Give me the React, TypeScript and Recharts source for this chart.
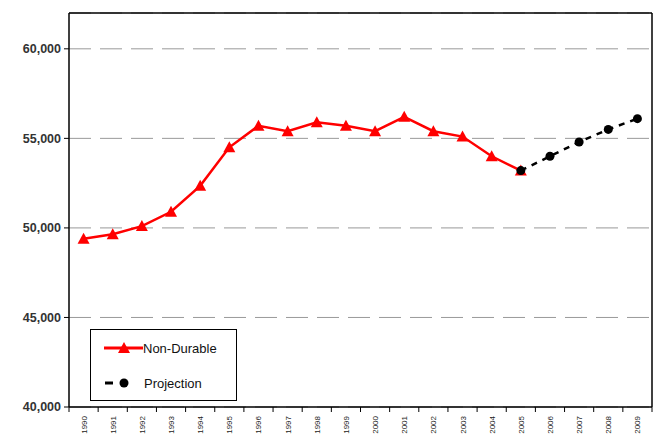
import { LineChart, Line, XAxis, YAxis, CartesianGrid, ReferenceLine } from "recharts";

// years on the x axis
const years = [1990, 1991, 1992, 1993, 1994, 1995, 1996, 1997, 1998, 1999, 2000, 2001, 2002, 2003, 2004, 2005, 2006, 2007, 2008, 2009];
// actuals, 1990-2005
const nonDurable = [49400, 49650, 50100, 50900, 52350, 54500, 55700, 55400, 55900, 55700, 55400, 56200, 55400, 55100, 54000, 53200, null, null, null, null];
// projection, 2005-2009
const projection = [null, null, null, null, null, null, null, null, null, null, null, null, null, null, null, 53200, 54000, 54800, 55500, 56100];
const yTicks = [40000, 45000, 50000, 55000, 60000];
const yTop = 62000;
const edgeTicks = [...years.map(y => y - 0.5), 2009.5];

const data = years.map((y, i) => ({ year: y, nonDurable: nonDurable[i], projection: projection[i] }));

const FONT = "Arial, 'Liberation Sans', sans-serif";

const Triangle = ({ cx, cy }: any) => {
  if (cx == null || cy == null) return null;
  return <path d={`M${cx},${cy - 6} L${cx + 6},${cy + 5} L${cx - 6},${cy + 5} Z`} fill="#ff0000" stroke="none" />;
};

const Dot = ({ cx, cy }: any) => {
  if (cx == null || cy == null) return null;
  return <circle cx={cx} cy={cy} r={4.5} fill="#000" />;
};

const YearTick = ({ x, y, payload }: any) => (
  <text x={x + 3} y={y} transform={`rotate(-90 ${x + 3} ${y})`} textAnchor="end"
    fontSize={8} fontFamily={FONT} fill="#222">
    {payload.value}
  </text>
);

const NoTick = () => <g />;

const LegendBox = () => (
  <div style={{ position: "absolute", left: 90, top: 329, width: 145, height: 70, border: "1px solid #000", background: "#fff" }}>
    <svg width={145} height={70} style={{ position: "absolute", left: 0, top: 0 }}>
      <line x1={13} y1={18} x2={52} y2={18} stroke="#ff0000" strokeWidth={3} />
      <path d="M33,12 L39,23 L27,23 Z" fill="#ff0000" />
      <line x1={14} y1={53} x2={22} y2={53} stroke="#000" strokeWidth={3} />
      <circle cx={33} cy={53} r={4.5} fill="#000" />
      <text x={52} y={23} fontSize={13} fontFamily={FONT} fill="#111">Non-Durable</text>
      <text x={53} y={58} fontSize={13} fontFamily={FONT} fill="#111">Projection</text>
    </svg>
  </div>
);

export default function App() {
  return (
    <div style={{ position: "absolute", left: 0, top: 0, width: 658, height: 436, background: "#fff", overflow: "hidden" }}>
      <LineChart width={658} height={436} data={data} margin={{ top: 13, right: 6, left: 0, bottom: 0 }}>
        <CartesianGrid xAxisId="a" vertical={false} stroke="#999" strokeDasharray="22 9" />
        <XAxis xAxisId="b" dataKey="year" type="number" domain={[1989.5, 2009.5]} ticks={years}
          tick={<YearTick />} axisLine={false} tickLine={false} height={28} interval={0} />
        <XAxis xAxisId="a" dataKey="year" type="number" domain={[1989.5, 2009.5]} ticks={edgeTicks}
          tick={<NoTick />} tickSize={5} axisLine={{ stroke: "#000", strokeWidth: 1.5 }} tickLine={{ stroke: "#000" }} height={1} interval={0} />
        <YAxis domain={[40000, yTop]} ticks={yTicks} width={69} tickSize={5} tickMargin={3}
          tickFormatter={(v: number) => v.toLocaleString("en-US")}
          tick={{ fill: "#333", fontSize: 12.5, fontWeight: "bold", fontFamily: FONT }}
          axisLine={{ stroke: "#000", strokeWidth: 1.5 }} tickLine={{ stroke: "#000" }} allowDataOverflow />
        <ReferenceLine xAxisId="a" y={yTop} stroke="#000" strokeWidth={1.5} />
        <ReferenceLine xAxisId="a" x={2009.5} stroke="#000" strokeWidth={1.5} />
        <Line xAxisId="a" dataKey="nonDurable" name="Non-Durable" stroke="#ff0000" strokeWidth={2.5}
          dot={<Triangle />} activeDot={false} isAnimationActive={false} />
        <Line xAxisId="a" dataKey="projection" name="Projection" stroke="#000" strokeWidth={2.5} strokeDasharray="6 6"
          dot={<Dot />} activeDot={false} isAnimationActive={false} />
      </LineChart>
      <LegendBox />
    </div>
  );
}
